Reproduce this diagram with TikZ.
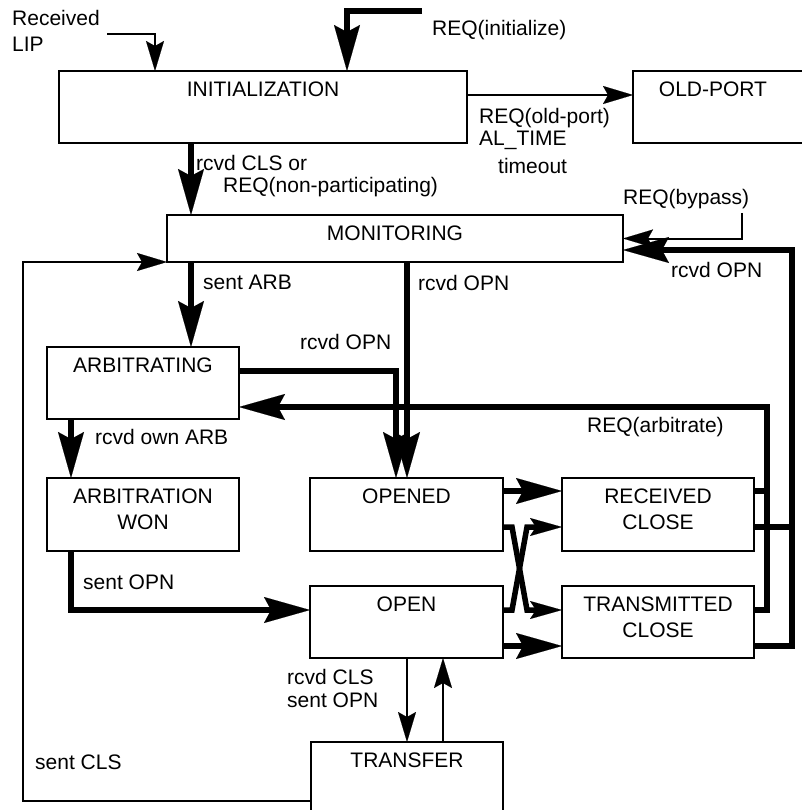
\documentclass[tikz,border=0pt]{standalone}
\usepackage{fontspec}
\setmainfont{Liberation Sans}
\usetikzlibrary{arrows.meta}
\begin{document}
\begin{tikzpicture}[x=1pt,y=-1pt,
  font=\fontsize{21}{26}\selectfont,
  state/.style={draw, line width=2.5pt, rectangle, anchor=north west,
                inner sep=0pt, outer sep=0pt},
  ttl/.style={anchor=north, yshift=-10.5pt, inner sep=0pt, align=center},
  lab/.style={anchor=west, inner sep=0pt, align=left},
  thn/.style={line width=2pt},
  thk/.style={line width=5.5pt, line join=miter},
  tipS/.style={-{Stealth[length=30pt,width=18pt,inset=5pt,line width=0.1pt]}},
  tipM/.style={-{Stealth[length=32pt,width=18pt,inset=6pt,line width=0.1pt]}},
  tipL/.style={-{Stealth[length=46pt,width=26pt,inset=7pt,line width=0.1pt]}},
]
\useasboundingbox (0,0) rectangle (801,810);

% ---- states ----
\node[state, minimum width=408pt, minimum height=72pt,
      label={[ttl,name=tInit]north:INITIALIZATION}] (init) at (59,71) {};
\node[state, minimum width=190pt, minimum height=72pt,
      label={[ttl,name=tOld,xshift=-15pt]north:OLD-PORT}] (oldport) at (633,71) {};
\node[state, minimum width=456pt, minimum height=47pt,
      label={[ttl,name=tMon]north:MONITORING}] (mon) at (167,215) {};
\node[state, minimum width=192pt, minimum height=72pt,
      label={[ttl,name=tArb]north:ARBITRATING}] (arb) at (47,347) {};
\node[state, minimum width=192pt, minimum height=73pt,
      label={[ttl,name=tWon]north:ARBITRATION\\WON}] (won) at (47,478) {};
\node[state, minimum width=193pt, minimum height=73pt,
      label={[ttl,name=tOpd]north:OPENED}] (opened) at (310,478) {};
\node[state, minimum width=192pt, minimum height=73pt,
      label={[ttl,name=tRc]north:RECEIVED\\CLOSE}] (rclose) at (562,478) {};
\node[state, minimum width=193pt, minimum height=72pt,
      label={[ttl,name=tOpn]north:OPEN}] (open) at (310,586) {};
\node[state, minimum width=192pt, minimum height=72pt,
      label={[ttl,name=tTc]north:TRANSMITTED\\CLOSE}] (tclose) at (562,586) {};
\node[state, minimum width=192pt, minimum height=90pt,
      label={[ttl,name=tTr]north:TRANSFER}] (transfer) at (311,742) {};

% ---- helper points ----
\coordinate (lipout) at (107,34);
\coordinate (initin) at (422,11);
\coordinate (bypass) at (742,213);
\coordinate (busA) at (767,0);
\coordinate (busB) at (792,0);
\coordinate (leftx) at (23,0);
\coordinate (monR) at ([yshift=-11.5pt]mon.east);
\coordinate (arbR) at ([yshift=-24pt]arb.east);
\coordinate (arbO) at ([yshift=12pt]arb.east);
\coordinate (rcA) at ([yshift=23.5pt]rclose.east);
\coordinate (rcB) at ([yshift=-12.5pt]rclose.east);
\coordinate (tcA) at ([yshift=12pt]tclose.east);
\coordinate (tcB) at ([yshift=-24pt]tclose.east);
\coordinate (trL) at ([yshift=-59pt]transfer.north west);

% ---- transitions ----
\draw[thn,tipS] (lipout) -| ([xshift=96pt]init.north west);
\draw[thk,tipL] (initin) -| ([xshift=288pt]init.north west);
\draw[thn,tipS] ([yshift=12pt]init.east) -- ([yshift=12pt]oldport.west);
\draw[thk,tipL] ([xshift=132pt]init.south west) -- ([xshift=24pt]mon.north west);
\draw[thn,tipS] (bypass) |- (mon.east);
\draw[thk,tipL] (tcB) -| (busB |- monR) -- (monR);
\draw[thk] (rcB) -- (rcB -| busB);
\draw[thk,tipL] (tcA) -| (busA |- arbR) -- (arbR);
\draw[thk] (rcA) -- (rcA -| busA);
\draw[thn,tipS] (trL) -| (leftx |- mon.south west) -- (mon.south west);
\draw[thk,tipL] ([xshift=24pt]mon.south west) -- ([xshift=144pt]arb.north west);
\draw[thk,tipL] ([xshift=240pt]mon.south west) -- ([xshift=97pt]opened.north west);
\draw[thk,tipL] (arbO) -| ([xshift=86pt]opened.north west);
\draw[thk,tipL] ([xshift=24pt]arb.south west) -- ([xshift=24pt]won.north west);
\draw[thk,tipL] ([xshift=24pt]won.south west) |- ([yshift=12pt]open.west);
\draw[thk,tipL] ([yshift=23.5pt]opened.east) -- ([yshift=23.5pt]rclose.west);
\draw[thk,tipL] ([yshift=-24pt]open.east) -- ([yshift=-24pt]tclose.west);
\draw[thk,tipM] ([yshift=-12.5pt]opened.east) -- ++(9,0)
      -- ([xshift=-35pt,yshift=12pt]tclose.west) -- ([yshift=12pt]tclose.west);
\draw[thk,tipM] ([yshift=12pt]open.east) -- ++(9,0)
      -- ([xshift=-35pt,yshift=-12.5pt]rclose.west) -- ([yshift=-12.5pt]rclose.west);
\draw[thn,tipS] ([xshift=97pt]open.south west) -- ([xshift=96pt]transfer.north west);
\draw[thn,tipS] ([xshift=132pt]transfer.north west) -- ([xshift=133pt]open.south west);

% ---- transition labels ----
\node[lab] (lLIP) at (12,31) {Received\\LIP};
\node[lab] (lInit) at (432,30) {REQ(initialize)};
\node[lab, anchor=base west] (lOld1) at (479,124) {REQ(old-port)};
\node[lab, anchor=base west] (lOld2) at (479,146) {AL\_TIME};
\node[lab] (lOld3) at (498,166) {timeout};
\node[lab] (lCls1) at (196,163) {rcvd CLS or};
\node[lab] (lCls2) at (223,187) {REQ(non-participating)};
\node[lab] (lByp) at (623,199) {REQ(bypass)};
\node[lab] (lRo1) at (671,270) {rcvd OPN};
\node[lab] (lSarb) at (203,282) {sent ARB};
\node[lab] (lRo2) at (418,283) {rcvd OPN};
\node[lab] (lRo3) at (300,342) {rcvd OPN};
\node[lab] (lArbr) at (587,427) {REQ(arbitrate)};
\node[lab] (lOwn) at (95,437) {rcvd own ARB};
\node[lab] (lSopn) at (83,582) {sent OPN};
\node[lab] (lTr1) at (287,677) {rcvd CLS};
\node[lab] (lTr2) at (287,700) {sent OPN};
\node[lab] (lScls) at (35,762) {sent CLS};
\end{tikzpicture}
\end{document}
